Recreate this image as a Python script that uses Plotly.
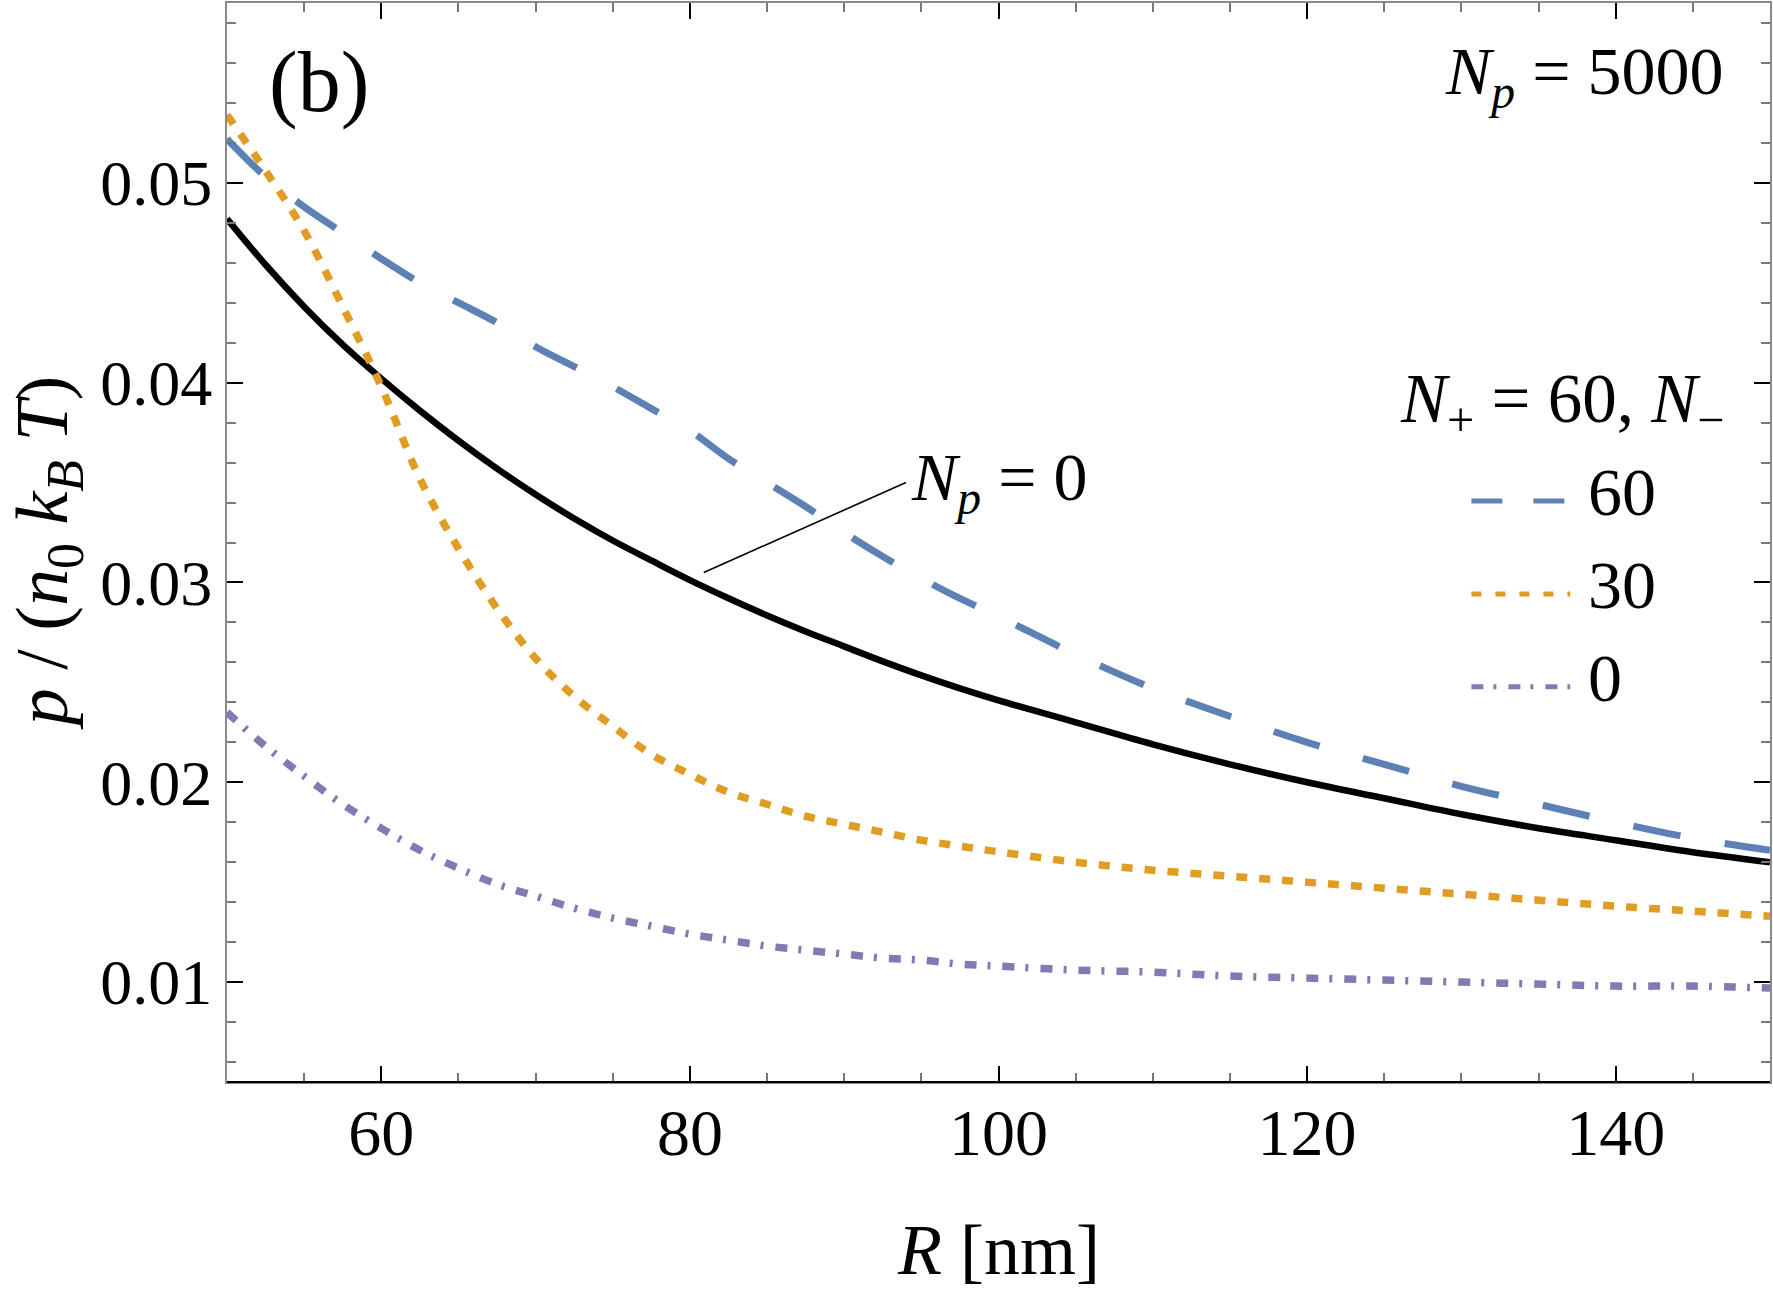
import plotly.graph_objects as go

# ---------------- data ----------------
R_nm = [50, 52.5, 55, 57.5, 60, 62.5, 65, 67.5, 70, 72.5, 75, 77.5, 80, 82.5, 85,
        87.5, 90, 92.5, 95, 97.5, 100, 105, 110, 115, 120, 125, 130, 135, 140, 145, 150]

# N_p = 0 (solid black)
p_Np0 = [0.0482, 0.0459, 0.0438, 0.0419, 0.0402, 0.0386, 0.0371, 0.0357, 0.0344, 0.0332,
         0.0321, 0.0311, 0.03012, 0.02921, 0.02835, 0.02755, 0.0268, 0.02605, 0.02535, 0.0247,
         0.0241, 0.0230, 0.0219, 0.0209, 0.0200, 0.0192, 0.0184, 0.0177, 0.0171, 0.0165, 0.0160]

# N_p = 5000, N_+ = 60, N_- = 60 (blue dashed)
p_Nm60 = [0.0522, 0.0503, 0.0488, 0.0475, 0.0462, 0.0450, 0.0440, 0.0430, 0.0418, 0.0408,
          0.0398, 0.0387, 0.0376, 0.0362, 0.0350, 0.0338, 0.0325, 0.0313, 0.0302, 0.0292,
          0.0283, 0.0264, 0.0247, 0.0233, 0.0220, 0.0209, 0.0198, 0.0189, 0.0180, 0.0172, 0.0166]

# N_- = 30 (orange dotted)
p_Nm30 = [0.0534, 0.0506, 0.0476, 0.0438, 0.0398, 0.0352, 0.0317, 0.0287, 0.0262, 0.0243,
          0.0228, 0.0214, 0.0204, 0.0195, 0.0189, 0.0183, 0.0179, 0.0175, 0.0171, 0.0168,
          0.01652, 0.0160, 0.0156, 0.0153, 0.0150, 0.0147, 0.0144, 0.0141, 0.0138, 0.01355, 0.0133]

# N_- = 0 (purple dash-dot)
p_Nm0 = [0.0235, 0.0218, 0.0203, 0.0189, 0.0177, 0.0166, 0.0157, 0.0149, 0.0143, 0.0137,
         0.0132, 0.0128, 0.0124, 0.0121, 0.0118, 0.0116, 0.0114, 0.0112, 0.0111, 0.0109,
         0.0108, 0.0106, 0.0105, 0.0103, 0.0102, 0.0101, 0.0100, 0.0099, 0.0098, 0.0098, 0.0097]

x_ticks = [60, 80, 100, 120, 140]
y_ticks = [0.01, 0.02, 0.03, 0.04, 0.05]
legend_labels = ["60", "30", "0"]

# label "N_p = 0" position and its leader line (data coordinates)
np0_label_xy = (94.2, 0.03505)
np0_leader = ((80.9, 0.0305), (94.0, 0.0350))

# ---------------- styling ----------------
FONT = "Liberation Serif"
FS = 66
BLUE = "#5E81B5"
ORANGE = "#E19C24"
PURPLE = "#8778B3"
FRAME = "#8a8a8a"

W, H = 1773, 1294
ML, MR, MT, MB = 227, 1, 1, 212
PW, PH = W - ML - MR, H - MT - MB

def px(xp):
    return (xp - ML) / PW

def py(yp):
    return 1 - (yp - MT) / PH

fig = go.Figure()

styles = [
    (p_Np0, dict(color="black", width=6.5)),
    (p_Nm60, dict(color=BLUE, width=7, dash="48px,45px")),
    (p_Nm30, dict(color=ORANGE, width=7.5, dash="11px,12px")),
    (p_Nm0, dict(color=PURPLE, width=7.5, dash="12px,11px,3px,12px")),
]
for ys, ln in styles:
    ln = dict(ln, shape="spline", smoothing=1.0)
    fig.add_trace(go.Scatter(x=R_nm, y=ys, mode="lines", line=ln,
                             showlegend=False, hoverinfo="skip"))

annotations = []
shapes = []

# panel label and N_p = 5000
annotations.append(dict(text="(b)", x=px(319), y=py(80), xref="paper", yref="paper",
                        showarrow=False, xanchor="center", yanchor="middle",
                        font=dict(family=FONT, size=86, color="black")))
annotations.append(dict(text="<i>N</i><sub><i>p</i></sub> = 5000", x=px(1728), y=py(74),
                        xref="paper", yref="paper", showarrow=False,
                        xanchor="right", yanchor="middle",
                        font=dict(family=FONT, size=FS + 2, color="black")))

# N_p = 0 label with leader line
annotations.append(dict(text="<i>N</i><sub><i>p</i></sub> = 0", x=np0_label_xy[0],
                        y=np0_label_xy[1], xref="x", yref="y", showarrow=False,
                        xanchor="left", yanchor="middle",
                        font=dict(family=FONT, size=FS + 2, color="black")))
shapes.append(dict(type="line", xref="x", yref="y",
                   x0=np0_leader[0][0], y0=np0_leader[0][1],
                   x1=np0_leader[1][0], y1=np0_leader[1][1],
                   line=dict(color="black", width=1.6)))

# axis titles placed as annotations
annotations.append(dict(text="<i>p</i> / (<i>n</i><sub>0</sub> <i>k</i><sub><i>B</i></sub> <i>T</i>)",
                        x=px(48), y=py(552), xref="paper", yref="paper", textangle=-90,
                        showarrow=False, xanchor="center", yanchor="middle",
                        font=dict(family=FONT, size=74, color="black")))
annotations.append(dict(text="<i>R</i> [nm]", x=px(1000), y=py(1250), xref="paper",
                        yref="paper", showarrow=False, xanchor="center", yanchor="middle",
                        font=dict(family=FONT, size=72, color="black")))

# manual legend
annotations.append(dict(text="<i>N</i><sub>+</sub> = 60, <i>N</i><sub>\u2212</sub>",
                        x=px(1728), y=py(402), xref="paper", yref="paper",
                        showarrow=False, xanchor="right", yanchor="middle",
                        font=dict(family=FONT, size=FS + 3, color="black")))
leg_y = [497, 590, 683]
leg_cols = [BLUE, ORANGE, PURPLE]
leg_dash = ["31px,31px", "10px,14px", "12px,10px,3px,12px"]
for lab, yy, c, d in zip(legend_labels, leg_y, leg_cols, leg_dash):
    annotations.append(dict(text=lab, x=px(1588), y=py(yy - 6), xref="paper", yref="paper",
                            showarrow=False, xanchor="left", yanchor="middle",
                            font=dict(family=FONT, size=FS + 2, color="black")))
    shapes.append(dict(type="line", xref="paper", yref="paper",
                       x0=px(1473), x1=px(1572), y0=py(yy + 3), y1=py(yy + 3),
                       line=dict(color=c, width=5, dash=d)))

# bottom frame in black
shapes.append(dict(type="line", xref="paper", yref="paper", x0=0, x1=1, y0=0, y1=0,
                   line=dict(color="black", width=2)))

axis_common = dict(showgrid=False, zeroline=False, showline=True, linecolor=FRAME,
                   linewidth=2, mirror="ticks", ticks="inside", tickcolor="black",
                   tickwidth=1.5, ticklen=16)

fig.update_layout(
    width=W, height=H,
    margin=dict(l=ML, r=MR, t=MT, b=MB, pad=0),
    plot_bgcolor="white", paper_bgcolor="white",
    showlegend=False,
    annotations=annotations,
    shapes=shapes,
    xaxis=dict(axis_common, range=[50, 150], tickmode="array", tickvals=x_ticks,
               ticktext=[str(v) for v in x_ticks], ticklabelstandoff=-8,
               tickfont=dict(family=FONT, size=FS, color="black"),
               minor=dict(tickmode="linear", tick0=50, dtick=5, ticks="inside",
                          ticklen=9, tickcolor="#777", tickwidth=1.5, showgrid=False)),
    yaxis=dict(axis_common, range=[0.0050, 0.0590], tickmode="array", tickvals=y_ticks,
               ticktext=["%.2f" % v for v in y_ticks], ticklabelstandoff=0,
               tickfont=dict(family=FONT, size=64, color="black"),
               minor=dict(tickmode="linear", tick0=0.0, dtick=0.002, ticks="inside",
                          ticklen=9, tickcolor="#777", tickwidth=1.5, showgrid=False)),
)

fig.write_html("out.html")
